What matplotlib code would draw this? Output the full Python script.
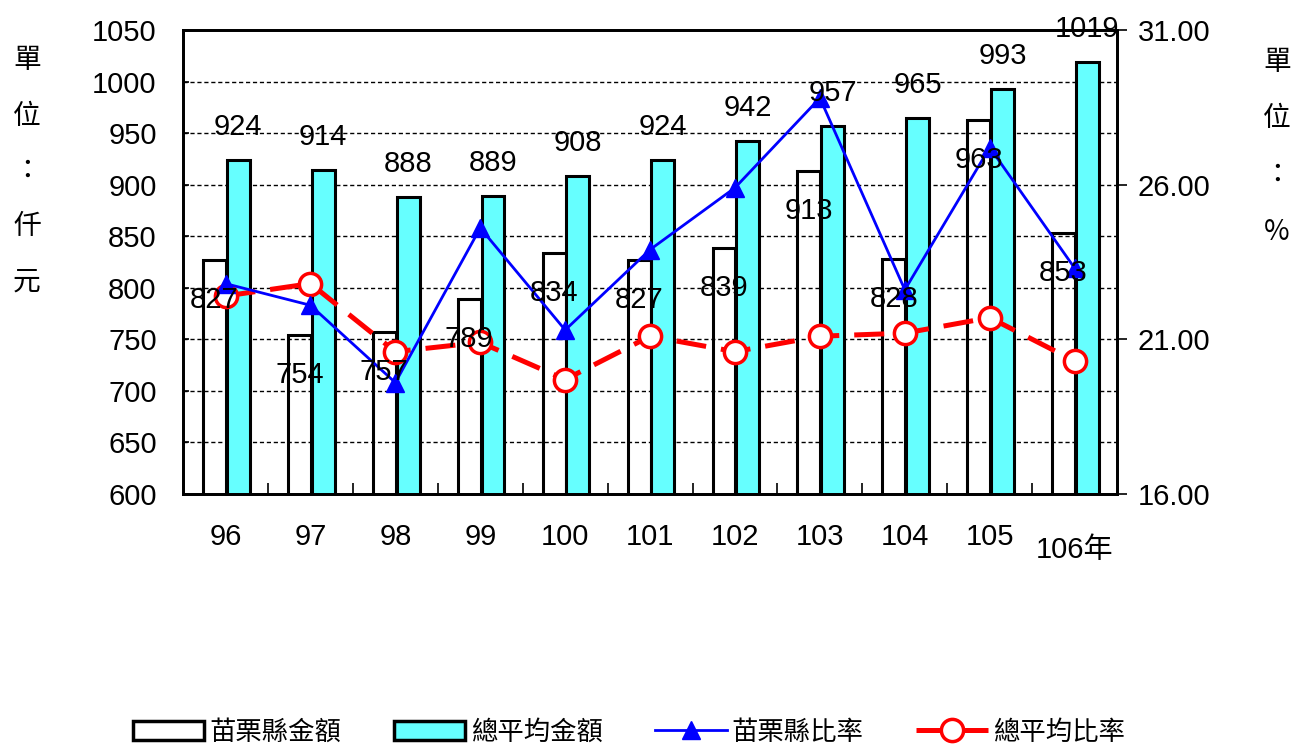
"""苗栗縣 vs 總平均: amounts (bars, left axis) and ratios (lines, right axis)."""

import matplotlib

matplotlib.use("Agg")
import matplotlib.pyplot as plt
from matplotlib import font_manager
from matplotlib.lines import Line2D
from matplotlib.patches import Patch
from matplotlib.ticker import FormatStrFormatter, FixedLocator
import matplotlib.transforms as mtransforms
import numpy as np

# ---- data ----
years = ["96", "97", "98", "99", "100", "101", "102", "103", "104", "105", "106年"]
miaoli_amount = [827, 754, 757, 789, 834, 827, 839, 913, 828, 963, 853]
avg_amount = [924, 914, 888, 889, 908, 924, 942, 957, 965, 993, 1019]
miaoli_rate = [22.8, 22.1, 19.6, 24.6, 21.3, 23.9, 25.9, 28.8, 22.6, 27.2, 23.3]
avg_rate = [22.4, 22.8, 20.6, 20.9, 19.7, 21.1, 20.6, 21.1, 21.2, 21.7, 20.3]

left_ticks = list(range(600, 1051, 50))
right_ticks = [16, 21, 26, 31]

CYAN = "#66FFFF"
BLUE = "#0000FF"
RED = "#FF0000"

installed = {f.name for f in font_manager.fontManager.ttflist}
if "Liberation Sans Narrow" in installed:
    latin, num_size = "Liberation Sans Narrow", 22
else:
    latin, num_size = "Liberation Sans", 21
plt.rcParams["font.family"] = [latin, "Noto Sans CJK TC"]

fig = plt.figure(figsize=(13.02, 7.47), dpi=100)
ax = fig.add_axes([0.1406, 0.3387, 0.7174, 0.6212])
x = np.arange(len(years))
w = 0.27

ax.set_axisbelow(True)
ax.yaxis.grid(True, linestyle=(0, (3, 2)), color="black", lw=1)
ax.bar(x - 0.13, miaoli_amount, w, facecolor="none",
       edgecolor="black", lw=2.2, zorder=2)
ax.bar(x + 0.15, avg_amount, w, facecolor=CYAN, edgecolor="black", lw=2.2, zorder=2)

ax.set_xlim(-0.5, len(years) - 0.5)
ax.set_ylim(600, 1050)
ax.set_yticks(left_ticks)
ax.tick_params(axis="y", direction="in", length=4, width=1.2, pad=19,
               labelsize=num_size)
ax.set_xticks(x, labels=years[:-1] + [""])
ax.xaxis.set_minor_locator(FixedLocator(x[:-1] + 0.5))
ax.tick_params(axis="x", which="major", length=0, pad=21, labelsize=num_size)
ax.tick_params(axis="x", which="minor", direction="in", length=8, width=1.2)
ax.text(x[-1], -0.121, years[-1], transform=mtransforms.blended_transform_factory(
    ax.transData, ax.transAxes), ha="center", va="center", fontsize=num_size)
for s in ax.spines.values():
    s.set_linewidth(2)

ax2 = ax.twinx()
ax2.set_ylim(16, 31)
ax2.set_yticks(right_ticks)
ax2.yaxis.set_major_formatter(FormatStrFormatter("%.2f"))
ax2.tick_params(axis="y", direction="out", length=7, width=1.2, pad=8,
                labelsize=num_size)
for s in ax2.spines.values():
    s.set_linewidth(2)

ax2.plot(x, avg_rate, color=RED, lw=3.6, linestyle=(0, (6, 3)), marker="o", ms=16,
         mfc="white", mec=RED, mew=2.5, zorder=3)
ax2.plot(x, miaoli_rate, color=BLUE, lw=2, marker="^", ms=13, zorder=4)

# bar value labels sit on top of the lines
for xi, v in zip(x, miaoli_amount):
    ax2.annotate(str(v), (xi - 0.13, v), xycoords=ax.transData, xytext=(0, -40),
                 textcoords="offset pixels", ha="center", va="center",
                 fontsize=num_size, zorder=6)
for xi, v in zip(x, avg_amount):
    ax2.annotate(str(v), (xi + 0.15, v), xycoords=ax.transData, xytext=(0, 33),
                 textcoords="offset pixels", ha="center", va="center",
                 fontsize=num_size, zorder=6, annotation_clip=False)

# unit labels, stacked vertically
for i, ch in enumerate("單位：仟元"):
    fig.text(27 / 1302, 1 - (60 + 55.5 * i) / 747, ch, ha="center", va="center",
             fontsize=20, family="Noto Sans CJK TC")
for i, ch in enumerate("單位：%"):
    fig.text(1277 / 1302, 1 - (62 + 56.5 * i) / 747, ch, ha="center", va="center",
             fontsize=20, family="Noto Sans CJK TC")

handles = [
    Patch(facecolor="white", edgecolor="black", lw=2.5),
    Patch(facecolor=CYAN, edgecolor="black", lw=2.5),
    Line2D([], [], color=BLUE, lw=2, marker="^", ms=13),
    Line2D([], [], color=RED, lw=3.6, linestyle=(0, (6, 3)), marker="o", ms=16,
           mfc="white", mec=RED, mew=2.5),
]
labels = ["苗栗縣金額", "總平均金額", "苗栗縣比率", "總平均比率"]
fig.legend(handles, labels, loc="center", bbox_to_anchor=(0.483, 0.02), ncol=4,
           frameon=False, handlelength=2.7, handletextpad=0.2,
           columnspacing=2.0, prop={"family": "Noto Sans CJK TC", "size": 19})

fig.savefig("out.png", dpi=100)
